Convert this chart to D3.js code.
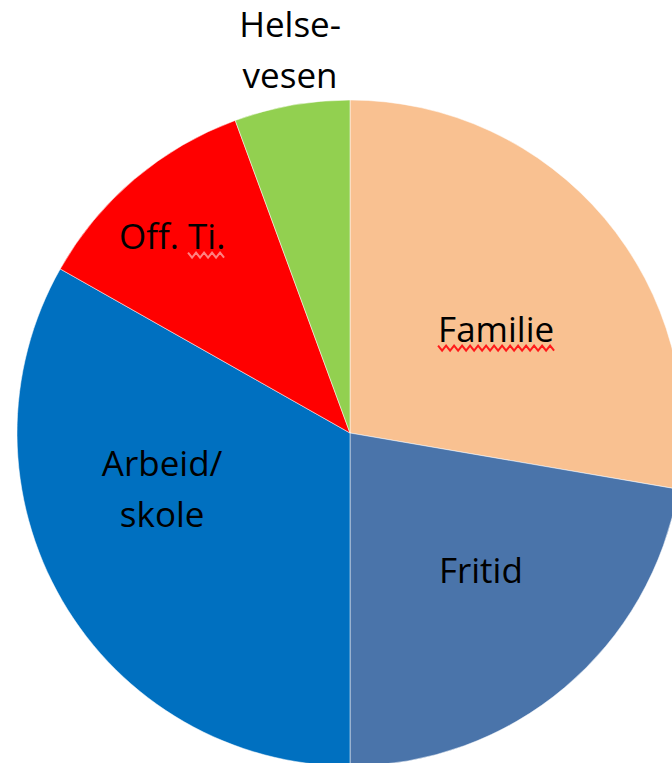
<!DOCTYPE html>
<html>
<head>
<meta charset="utf-8">
<script src="https://cdn.jsdelivr.net/npm/d3@7"></script>
<style>
  html, body { margin: 0; padding: 0; background: #fff; overflow: hidden; }
  text { font-family: "Open Sans", Lato, sans-serif; fill: #000; }
</style>
</head>
<body>
<div id="chart"></div>
<script>
// slices, clockwise from 12 o'clock
var categories = ["Familie", "Fritid", "Arbeid/skole", "Off. Ti.", "Helse-vesen"];
var values = [27.7, 22.3, 33.2, 11.2, 5.6];
var colors = ["#f9c191", "#4a74aa", "#0070c0", "#ff0000", "#92d050"];
// label lines as shown in the picture
var labelLines = [["Familie"], ["Fritid"], ["Arbeid/", "skole"], ["Off. Ti."], ["Helse-", "vesen"]];

var width = 672,
    height = 763,
    cx = 350,
    cy = 433,
    radius = 333,
    fontSize = 35,
    lineHeight = 51;

// label placement: angle (deg, clockwise from top) and radius fraction
var labelAngle = [54.8, 136.5, 253.3, 317.8, 351.1],
    labelRadius = [0.537, 0.571, 0.589, 0.795, 1.163];

var svg = d3.select("#chart").append("svg")
    .attr("width", width)
    .attr("height", height);

var g = svg.append("g")
    .attr("transform", "translate(" + cx + "," + cy + ")");

var pie = d3.pie().sort(null).value(function(d) { return d; });
var arc = d3.arc().innerRadius(0).outerRadius(radius);
var arcs = pie(values);

g.selectAll("path.slice").data(arcs)
  .enter().append("path")
    .attr("class", "slice")
    .attr("d", arc)
    .style("fill", function(d, i) { return colors[i]; })
    .style("stroke", "rgba(255,255,255,0.5)")
    .style("stroke-width", 1);

var labels = g.selectAll("g.label").data(arcs)
  .enter().append("g")
    .attr("class", "label")
    .attr("transform", function(d, i) {
      var a = labelAngle[i] * Math.PI / 180,
          r = radius * labelRadius[i];
      return "translate(" + (Math.sin(a) * r) + "," + (-Math.cos(a) * r) + ")";
    });

labels.each(function(d, i) {
  var lines = labelLines[i],
      sel = d3.select(this),
      y0 = -(lines.length - 1) * lineHeight / 2;
  lines.forEach(function(line, j) {
    sel.append("text")
      .attr("x", 0)
      .attr("y", y0 + j * lineHeight)
      .attr("dy", "0.35em")
      .style("text-anchor", "middle")
      .style("font-size", fontSize + "px")
      .text(line);
  });
});

// spell-check squiggles under "Familie" and "Ti."
function squiggle(x0, x1, y) {
  var pts = [], step = 4, k = 0;
  for (var x = x0; x <= x1; x += step, k++) pts.push([x, y + (k % 2 ? 2.5 : -2.5)]);
  return d3.line()(pts);
}
labels.each(function(d, i) {
  var t = d3.select(this).select("text");
  var node = t.node();
  var x0 = -node.getComputedTextLength() / 2;
  var base = +t.attr("y") + fontSize * 0.35 + 6;
  if (i === 0) {
    d3.select(this).append("path")
      .attr("d", squiggle(x0, -x0, base))
      .style("fill", "none").style("stroke", "#ff1a1a").style("stroke-width", 2);
  }
  if (i === 3) {
    var pre = node.getSubStringLength(0, 5);
    d3.select(this).append("path")
      .attr("d", squiggle(x0 + pre, -x0, base))
      .style("fill", "none").style("stroke", "#ff8080").style("stroke-width", 2);
  }
});
</script>
</body>
</html>
